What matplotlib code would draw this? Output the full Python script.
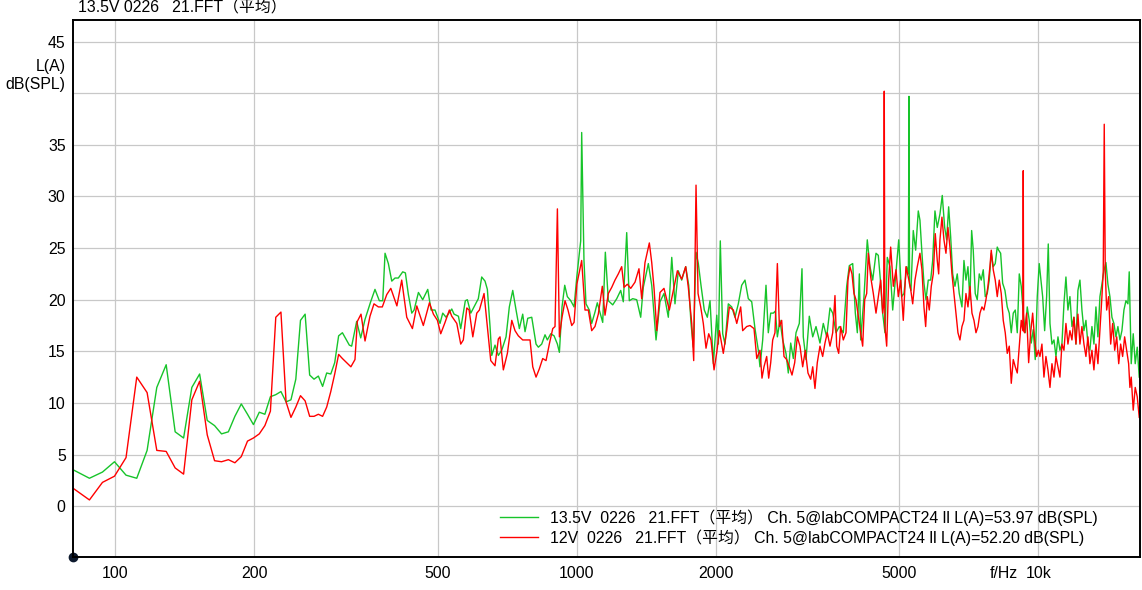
import matplotlib
matplotlib.use("Agg")
import matplotlib.pyplot as plt
from matplotlib.ticker import NullLocator

plt.rcParams['font.family'] = ['Liberation Sans', 'Noto Sans CJK SC']

# FFT bins at the low end (shared by both traces)
f_low = [81.2, 87.9, 93.8, 99.6, 105.5, 111.3, 117.2, 123.0, 128.9, 134.8,
         140.6, 146.5, 152.3, 158.2, 164.1, 169.9, 175.8, 181.6, 187.5, 193.4,
         199.2, 205.1, 210.9, 216.8, 222.7, 228.5, 234.4, 240.2, 246.1, 251.9,
         257.8, 263.7, 269.5, 275.4, 281.3, 287.1, 293.0, 298.8, 304.7, 310.5]
green_low = [3.5, 2.7, 3.3, 4.3, 3.0, 2.7, 5.4, 11.5, 13.7, 7.2,
             6.6, 11.5, 12.8, 8.3, 7.8, 7.0, 7.2, 8.7, 9.9, 8.9,
             7.9, 9.1, 8.9, 10.6, 10.8, 11.1, 10.1, 10.3, 12.3, 18.0,
             18.6, 12.7, 12.3, 12.6, 11.6, 12.9, 12.8, 13.9, 16.5, 16.8]
red_low = [1.7, 0.6, 2.3, 2.9, 4.7, 12.5, 11.0, 5.4, 5.3, 3.7,
           3.1, 10.3, 12.1, 6.9, 4.4, 4.3, 4.5, 4.2, 4.8, 6.3,
           6.6, 7.0, 7.8, 9.2, 18.3, 18.8, 10.1, 8.6, 9.6, 10.7,
           10.2, 8.7, 8.7, 8.9, 8.7, 9.6, 11.1, 12.8, 14.7, 14.3]

# 13.5V trace above 320 Hz
f_green_hi = [
    321.4, 325.2, 333.4, 340.2, 347.6, 357.5, 365.3, 373.3, 379.7, 384.1,
    390.5, 397.2, 403.7, 410.4, 419.5, 425.1, 431.5, 438.9, 444.0, 453.7,
    463.5, 475.3, 483.2, 492.8, 505.3, 512.2, 520.7, 535.8, 542.0, 553.9,
    560.3, 573.3, 579.1, 589.1, 601.7, 611.7, 622.1, 632.5, 639.9, 648.5,
    654.1, 664.8, 675.9, 687.4, 702.4, 714.0, 726.3, 738.4, 750.6, 763.3,
    772.2, 782.7, 798.5, 815.8, 825.3, 839.2, 853.2, 863.1, 877.9, 892.5,
    907.5, 916.6, 928.7, 941.3, 953.6, 970.1, 986.2, 999.7, 1019.4, 1024.4,
    1036.2, 1046.6, 1064.0, 1076.9, 1094.7, 1107.4, 1137.7, 1152.7, 1170.1, 1196.0,
    1220.2, 1244.5, 1260.8, 1282.4, 1299.1, 1321.3, 1348.0, 1375.1, 1393.0, 1428.5,
    1452.9, 1484.4, 1514.0, 1544.5, 1578.3, 1605.5, 1631.6, 1658.9, 1687.1, 1721.2,
    1747.2, 1767.4, 1787.7, 1812.2, 1833.2, 1857.6, 1888.5, 1917.2, 1943.2, 1975.8,
    2009.8, 2026.0, 2045.4, 2070.1, 2094.0, 2128.9, 2165.5, 2201.0, 2237.7, 2275.7,
    2313.6, 2352.2, 2392.6, 2431.8, 2472.7, 2493.2, 2527.1, 2569.3, 2598.9, 2630.3,
    2665.0, 2691.9, 2719.1, 2754.8, 2792.3, 2838.8, 2871.6, 2906.3, 2944.6, 2984.3,
    3033.6, 3074.5, 3094.6, 3136.6, 3188.7, 3243.5, 3297.3, 3363.1, 3419.3, 3477.8,
    3535.6, 3583.7, 3643.3, 3703.5, 3778.0, 3842.6, 3893.1, 3959.7, 4011.7, 4052.2,
    4093.1, 4120.1, 4189.0, 4258.4, 4316.3, 4375.0, 4447.7, 4499.0, 4552.3, 4598.1,
    4651.2, 4705.2, 4769.1, 4834.0, 4897.5, 4981.4, 5054.9, 5113.5, 5183.2, 5228.0,
    5242.9, 5258.0, 5295.5, 5356.2, 5420.8, 5492.0, 5538.1, 5593.6, 5649.8, 5706.5,
    5772.4, 5842.1, 5900.9, 5968.4, 6037.6, 6119.1, 6190.1, 6264.7, 6327.2, 6390.8,
    6455.0, 6519.9, 6594.6, 6671.0, 6737.7, 6829.3, 6897.6, 6966.5, 7036.2, 7106.5,
    7167.3, 7224.8, 7297.1, 7370.8, 7444.5, 7518.9, 7594.3, 7670.5, 7747.5, 7825.1,
    7903.6, 7982.8, 8062.7, 8144.1, 8200.9, 8282.9, 8366.2, 8462.8, 8561.0, 8646.9,
    8733.5, 8821.0, 8909.4, 8999.3, 9089.3, 9179.2, 9271.3, 9364.3, 9458.3, 9553.1,
    9648.9, 9745.5, 9843.1, 9942.5, 10041, 10112, 10214, 10316, 10419, 10504,
    10594, 10699, 10807, 10915, 11025, 11134, 11245, 11359, 11472, 11587,
    11703, 11821, 11939, 12059, 12179, 12302, 12425, 12550, 12676, 12802,
    12930, 13061, 13191, 13324, 13457, 13592, 13728, 13867, 14005, 14145,
    14287, 14431, 14575, 14722, 14868, 15018, 15168, 15321, 15475, 15629,
    15731, 15889, 16048, 16209, 16373, 16536]
green_hi = [
    15.6, 15.5, 17.9, 16.3, 18.1, 19.8, 21.0, 19.9, 19.9, 24.5,
    23.5, 21.8, 22.1, 22.1, 22.7, 22.6, 20.5, 18.7, 19.0, 20.7,
    20.0, 21.0, 19.0, 19.0, 17.7, 18.7, 18.3, 19.1, 18.6, 18.4,
    17.2, 19.9, 20.0, 18.7, 19.5, 20.1, 22.2, 21.8, 21.0, 17.4,
    14.6, 15.6, 14.6, 15.1, 16.4, 19.3, 20.9, 19.0, 17.2, 18.6,
    16.9, 18.2, 18.3, 15.7, 15.4, 15.7, 16.6, 16.1, 16.7, 16.5,
    15.7, 14.9, 19.3, 21.4, 20.3, 19.9, 19.3, 22.2, 25.7, 36.2,
    23.8, 19.6, 19.0, 17.7, 18.8, 19.7, 17.8, 24.6, 19.9, 19.5,
    20.1, 20.9, 19.8, 26.5, 19.9, 20.1, 20.0, 18.3, 21.2, 23.5,
    21.4, 16.1, 19.8, 20.6, 18.3, 24.1, 19.6, 22.8, 21.9, 23.2,
    21.4, 17.7, 15.4, 24.6, 23.5, 21.4, 19.0, 18.3, 19.9, 13.8,
    18.5, 15.7, 25.7, 16.7, 15.7, 19.6, 19.3, 18.3, 19.6, 21.4,
    21.9, 20.1, 19.8, 17.2, 15.1, 13.5, 16.1, 21.4, 16.8, 18.7,
    18.7, 18.9, 16.4, 18.0, 16.1, 14.8, 12.9, 15.8, 14.3, 16.8,
    17.7, 23.0, 16.4, 14.2, 18.4, 16.4, 17.4, 15.8, 17.7, 16.4,
    19.2, 18.7, 16.8, 17.4, 16.8, 21.3, 23.3, 23.5, 18.7, 16.8,
    22.5, 16.1, 20.3, 25.8, 23.2, 21.9, 24.5, 24.3, 21.6, 18.7,
    16.8, 24.1, 23.2, 19.0, 21.9, 25.8, 20.3, 20.6, 23.2, 22.5,
    39.7, 21.5, 20.9, 26.7, 24.8, 28.6, 27.7, 24.5, 21.6, 20.0,
    21.9, 21.9, 23.8, 28.6, 27.0, 28.3, 30.1, 27.0, 25.8, 29.0,
    26.1, 22.5, 21.3, 22.5, 20.6, 19.3, 23.8, 21.9, 23.2, 20.0,
    26.7, 24.8, 20.6, 20.0, 22.5, 21.9, 22.9, 20.3, 20.6, 21.9,
    24.5, 23.2, 23.5, 25.1, 24.8, 24.5, 21.6, 20.9, 19.3, 18.7,
    16.8, 18.7, 19.0, 16.8, 22.5, 21.3, 18.7, 16.8, 19.3, 18.0,
    15.8, 17.1, 14.2, 20.3, 23.5, 22.2, 20.3, 17.0, 20.3, 25.4,
    17.7, 15.7, 16.1, 14.5, 16.4, 15.1, 15.7, 19.6, 22.2, 19.0,
    20.3, 17.4, 18.3, 15.7, 20.9, 21.9, 19.0, 17.0, 18.0, 15.7,
    15.1, 17.4, 15.7, 19.3, 16.4, 20.3, 21.5, 22.8, 23.6, 21.5,
    20.3, 18.3, 17.7, 16.4, 17.4, 16.1, 17.0, 19.0, 19.9, 19.6,
    22.7, 13.8, 16.7, 13.8, 15.4, 12.5]

# 12V trace above 320 Hz
f_red_hi = [
    323.9, 330.6, 334.5, 340.7, 347.6, 356.3, 363.5, 371.5, 378.9, 387.4,
    395.3, 407.5, 417.4, 428.0, 440.3, 450.0, 464.9, 479.3, 488.9, 498.8,
    507.1, 518.1, 529.4, 535.8, 549.4, 560.3, 567.6, 577.5, 584.2, 595.1,
    607.0, 615.0, 629.4, 639.9, 650.8, 664.8, 675.9, 681.6, 693.0, 707.1,
    722.8, 734.6, 746.8, 763.3, 778.8, 791.7, 802.5, 815.8, 829.3, 843.4,
    857.5, 871.7, 886.7, 896.8, 907.5, 916.6, 928.7, 942.7, 956.8, 974.8,
    986.2, 1000.0, 1024.4, 1041.5, 1058.9, 1076.9, 1094.7, 1113.0, 1135.4, 1150.8,
    1170.1, 1190.1, 1209.6, 1229.8, 1250.7, 1265.3, 1286.6, 1308.5, 1336.6, 1363.3,
    1381.9, 1404.9, 1435.7, 1452.9, 1469.8, 1489.9, 1514.0, 1544.5, 1586.2, 1613.3,
    1651.2, 1687.1, 1721.2, 1743.8, 1773.8, 1791.3, 1812.2, 1830.5, 1854.9, 1879.3,
    1904.8, 1930.5, 1952.8, 1982.6, 2009.8, 2036.2, 2059.7, 2076.4, 2112.0, 2139.7,
    2183.0, 2220.6, 2264.4, 2287.2, 2333.4, 2372.3, 2420.3, 2453.5, 2493.2, 2518.4,
    2543.6, 2578.0, 2603.9, 2630.3, 2656.5, 2686.9, 2719.1, 2746.5, 2778.2, 2810.4,
    2848.7, 2886.2, 2925.1, 2964.7, 3003.3, 3043.8, 3085.2, 3125.9, 3167.7, 3210.9,
    3243.5, 3280.3, 3318.4, 3363.1, 3408.8, 3448.2, 3488.2, 3535.6, 3583.7, 3624.4,
    3655.4, 3692.4, 3728.9, 3778.0, 3829.2, 3867.1, 3905.8, 3945.2, 3984.6, 4024.7,
    4071.5, 4120.1, 4161.5, 4203.4, 4245.7, 4279.8, 4331.5, 4388.6, 4447.7, 4499.0,
    4552.3, 4598.1, 4622.0, 4634.8, 4648.0, 4691.1, 4737.8, 4785.4, 4849.0, 4914.3,
    4971.0, 5029.8, 5096.0, 5165.2, 5224.8, 5288.0, 5341.1, 5401.8, 5464.4, 5538.1,
    5593.6, 5649.8, 5698.2, 5744.1, 5801.7, 5859.9, 5918.6, 5977.8, 6037.6, 6080.3,
    6119.1, 6180.3, 6242.7, 6305.1, 6368.2, 6431.8, 6496.7, 6561.5, 6627.6, 6693.7,
    6761.0, 6829.3, 6897.6, 6966.5, 7036.2, 7106.5, 7178.8, 7251.2, 7323.5, 7397.2,
    7470.3, 7545.0, 7621.2, 7697.4, 7774.3, 7852.0, 7903.6, 7982.8, 8062.7, 8144.1,
    8225.6, 8307.7, 8391.0, 8475.2, 8561.0, 8646.9, 8733.5, 8821.0, 8909.4, 8999.3,
    9089.3, 9179.2, 9255.0, 9271.3, 9290.0, 9336.0, 9430.0, 9524.8, 9620.6, 9717.2,
    9814.8, 9913.3, 10000, 10077, 10177, 10280, 10383, 10487, 10594, 10699,
    10807, 10915, 11025, 11134, 11245, 11359, 11472, 11587, 11703, 11821,
    11939, 12059, 12179, 12302, 12425, 12550, 12676, 12802, 12930, 13061,
    13191, 13324, 13457, 13592, 13728, 13819, 13888, 13958, 14056, 14197,
    14341, 14485, 14632, 14779, 14928, 15071, 15222, 15375, 15529, 15685,
    15785, 15889, 16048, 16209, 16373, 16536]
red_hi = [
    13.5, 14.2, 17.9, 18.6, 16.0, 18.4, 19.6, 19.3, 19.3, 20.5,
    21.1, 19.4, 21.9, 18.3, 17.2, 19.4, 17.5, 19.7, 18.6, 18.0,
    16.7, 17.8, 19.0, 18.4, 17.7, 15.7, 16.1, 19.2, 19.0, 16.4,
    18.7, 19.0, 20.6, 17.4, 14.1, 13.6, 16.2, 16.4, 13.2, 14.8,
    18.0, 17.0, 16.5, 16.1, 16.1, 16.1, 13.5, 12.5, 13.3, 14.3,
    14.1, 15.7, 17.2, 17.4, 28.8, 16.4, 18.3, 19.9, 19.0, 17.5,
    17.8, 21.5, 23.8, 19.0, 19.0, 17.0, 17.4, 18.6, 21.3, 18.5,
    20.6, 21.2, 21.9, 22.5, 23.2, 21.2, 21.5, 21.1, 21.7, 23.0,
    20.1, 23.6, 25.5, 23.6, 21.1, 17.0, 20.7, 21.1, 19.0, 20.6,
    22.8, 22.0, 23.2, 21.2, 17.7, 14.1, 31.1, 20.6, 19.3, 17.7,
    15.3, 16.7, 16.1, 13.2, 14.9, 17.0, 15.7, 14.8, 17.0, 19.3,
    19.0, 17.7, 19.3, 17.0, 17.4, 17.5, 17.2, 14.3, 15.1, 12.4,
    13.5, 14.5, 12.4, 13.9, 16.1, 16.8, 23.5, 17.4, 18.0, 14.5,
    14.2, 13.5, 12.7, 13.9, 16.4, 15.5, 13.5, 15.1, 12.9, 12.3,
    13.5, 11.4, 13.9, 15.5, 14.5, 15.8, 16.8, 15.5, 16.8, 20.4,
    15.5, 14.8, 17.4, 16.1, 16.8, 21.9, 23.2, 22.5, 20.6, 20.0,
    18.4, 16.8, 15.5, 20.0, 20.6, 24.5, 22.2, 20.6, 18.7, 20.3,
    21.9, 18.7, 19.5, 40.2, 17.5, 15.5, 21.9, 25.1, 21.3, 22.9,
    20.3, 21.9, 18.0, 23.2, 22.2, 21.0, 19.6, 21.9, 23.2, 24.5,
    22.9, 19.3, 17.4, 20.3, 19.0, 21.3, 22.5, 26.4, 23.8, 22.5,
    25.8, 28.0, 25.8, 24.5, 27.0, 25.1, 22.5, 20.6, 18.7, 16.8,
    16.1, 17.4, 18.0, 20.6, 19.3, 21.3, 18.7, 18.0, 16.8, 17.4,
    18.7, 19.3, 19.0, 20.0, 21.3, 23.2, 24.8, 22.9, 21.9, 20.3,
    21.9, 20.6, 18.0, 16.8, 14.8, 15.5, 11.9, 14.2, 13.5, 12.9,
    15.5, 18.0, 17.0, 32.5, 17.0, 16.8, 18.7, 13.9, 16.8, 18.7,
    16.1, 14.5, 15.1, 14.5, 15.7, 12.5, 14.5, 13.2, 11.5, 13.8,
    12.5, 14.5, 13.5, 12.5, 15.7, 15.1, 17.7, 15.7, 17.0, 16.1,
    18.3, 15.7, 18.6, 15.7, 17.4, 15.7, 14.5, 16.4, 13.8, 15.1,
    13.2, 15.7, 13.8, 17.0, 20.3, 22.8, 37.0, 22.8, 19.0, 20.3,
    15.7, 17.7, 15.1, 16.4, 13.8, 15.7, 14.5, 16.4, 15.1, 13.8,
    11.5, 12.5, 9.3, 11.5, 10.6, 8.6]

labels = ['13.5V  0226   21.FFT\uff08平均\uff09 Ch. 5@labCOMPACT24 ll L(A)=53.97 dB(SPL)',
          '12V  0226   21.FFT\uff08平均\uff09 Ch. 5@labCOMPACT24 ll L(A)=52.20 dB(SPL)']
x_ticks = [100, 200, 500, 1000, 2000, 5000, 10000]
x_ticklabels = ['100', '200', '500', '1000', '2000', '5000', '10k']
y_ticks = [0, 5, 10, 15, 20, 25, 30, 35, 40, 45]
y_ticklabels = ['0', '5', '10', '15', '20', '25', '30', '35', '', '45']

fs = 11.4
fig = plt.figure(figsize=(11.42, 5.90), dpi=100)
ax = fig.add_axes([73.3 / 1142, 1 - 556.7 / 590, (1140 - 73.3) / 1142, (556.7 - 20) / 590])

ax.plot(f_low + f_green_hi, green_low + green_hi, color='#17c42a', lw=1.0, label=labels[0])
ax.plot(f_low + f_red_hi, red_low + red_hi, color='#ff0000', lw=1.0, label=labels[1])

ax.set_xscale('log')
ax.set_xlim(81.1, 16600)
ax.set_ylim(-4.9, 47.1)
ax.set_xticks(x_ticks)
ax.set_xticklabels(x_ticklabels)
ax.xaxis.set_minor_locator(NullLocator())
ax.set_yticks(y_ticks)
ax.set_yticklabels(y_ticklabels)
ax.tick_params(length=0, labelsize=fs, colors='black')
ax.tick_params(axis='y', pad=5.5)
ax.tick_params(axis='x', pad=6.5)
ax.grid(True, color='#c8c8c8', lw=0.9)
ax.set_axisbelow(True)
for sp in ax.spines.values():
    sp.set_color('black')
    sp.set_linewidth(1.4)

# unit labels
ax.text(-7.5 / 1066.7, (556.7 - 67) / 536.7, 'L(A)', transform=ax.transAxes,
        ha='right', va='center', fontsize=fs)
ax.text(-7.5 / 1066.7, (556.7 - 85) / 536.7, 'dB(SPL)', transform=ax.transAxes,
        ha='right', va='center', fontsize=fs)
ax.annotate('f/Hz', xy=(10000, 0), xycoords=('data', 'axes fraction'),
            xytext=(-14.5, -12.0), textcoords='offset points',
            ha='right', va='center', fontsize=fs)

# origin marker
ax.plot([0], [0], 'o', color='#0d1a2e', ms=6, transform=ax.transAxes, clip_on=False)

fig.text(78 / 1142, 1 - 8 / 590, '13.5V 0226   21.FFT\uff08平均\uff09', ha='left', va='center',
         fontsize=fs)

leg = ax.legend(loc='center left', bbox_to_anchor=((500 - 73.3) / 1066.7, (556.7 - 527.5) / 536.7),
                frameon=False, fontsize=fs, handlelength=2.4, handletextpad=0.75,
                borderpad=0, borderaxespad=0, labelspacing=0.25)

fig.savefig('out.png', dpi=100)
